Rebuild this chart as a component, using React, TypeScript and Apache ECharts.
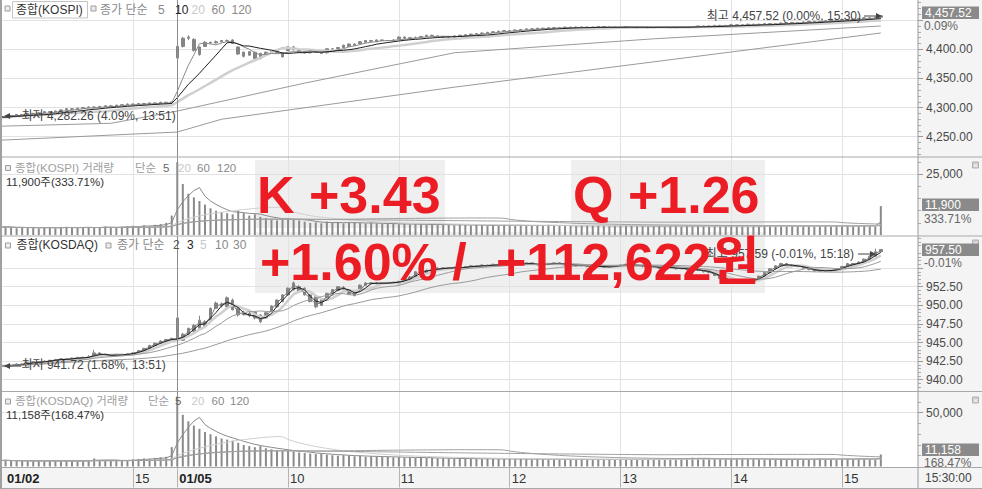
import React, { useEffect, useRef } from "react";
import * as echarts from "echarts";

const FONT = "'Liberation Sans', Arial, 'Noto Sans CJK KR', sans-serif";
const AXIS_FONT = "'Liberation Sans', Arial, sans-serif";

// ---------- time axis: 3-minute bars ----------
const sessions = [
  { day: "01/02", from: "13:48", to: "15:18" },
  { day: "01/05", from: "09:00", to: "15:18" },
];
const closingAuction = "15:30";
const emptyTailSlots = 7;
const xTickIndex = [0, 24, 32, 52, 72, 92, 112, 132, 152];
const xTickText = ["01/02", "15", "01/05", "10", "11", "12", "13", "14", "15"];
const xDateIndex = [0, 32];
const hourLineIndex = [24, 52, 72, 92, 112, 132, 152];
const dayBreakIndex = 32;

// ---------- KOSPI 3-min candles [open, close, low, high] ----------
const kospiOHLC: number[][] = [
  [4285,4284,4283,4287],[4284,4283,4282.26,4286],[4283,4286,4282,4287],[4286,4288,4285,4289],[4288,4287,4286,4289],
  [4287,4290,4286,4291],[4290,4289,4288,4291],[4289,4291,4288,4292],[4291,4293,4290,4294],[4293,4292,4291,4294],
  [4292,4294,4291,4295],[4294,4296,4293,4297],[4296,4298,4295,4299],[4298,4297,4296,4299],[4297,4299,4296,4300],
  [4299,4300,4298,4301],[4300,4301,4299,4302],[4301,4300,4299,4302],[4300,4302,4299,4303],[4302,4303,4301,4304],
  [4303,4302,4301,4304],[4302,4304,4301,4305],[4304,4305,4303,4306],[4305,4306,4304,4307],[4306,4305,4304,4307],
  [4305,4307,4304,4308],[4307,4306,4305,4308],[4306,4308,4305,4309],[4308,4307,4306,4309],[4307,4309,4306,4310],
  [4309,4308,4307,4310],[4308,4309.63,4308,4309.63],
  [4385,4405,4380,4407],[4405,4419,4403,4421],[4419,4421,4416,4424],[4417,4398,4396,4419],[4391,4404,4389,4405],
  [4405,4412,4404,4414],[4412,4411,4409,4413],[4411,4413,4410,4415],[4413,4415,4412,4416],[4415,4415,4413,4417],
  [4416,4410,4409,4417],[4404,4392,4390,4405],[4395,4388,4386,4396],[4390,4396,4389,4397],[4395,4384,4383,4396],
  [4384,4393,4383,4394],[4391,4395,4390,4396],[4393,4396,4392,4397],[4396,4394,4393,4397],[4394,4387,4386,4395],
  [4398,4404,4397,4405],[4404,4399,4398,4406],[4399,4395,4394,4400],[4396,4394,4393,4397],[4394,4395,4393,4396],
  [4395,4395,4394,4397],[4395,4393,4392,4396],[4394,4401,4393,4402],[4401,4401,4400,4402],[4401,4403,4400,4404],
  [4403,4407,4402,4408],[4405,4409,4404,4410],[4407,4409,4406,4410],[4410,4413,4409,4414],[4412,4415,4411,4416],
  [4415,4414,4413,4416],[4413,4416,4412,4417],[4416,4415,4414,4417],[4415,4415,4414,4416],[4415,4416,4414,4417],
  [4418,4421,4417,4422],[4421,4419,4418,4422],[4419,4420,4418,4421],[4420,4420,4419,4422],[4421,4422,4420,4423],
  [4422,4424,4421,4425],[4424,4423,4422,4425],[4423,4422,4421,4424],[4422,4421,4420,4423],[4421,4421,4420,4422],
  [4421,4423,4420,4424],[4423,4424,4422,4425],[4424,4425,4423,4426],[4425,4426,4424,4427],[4426,4427,4425,4428],
  [4427,4428,4426,4429],[4428,4429,4427,4430],[4429,4430,4428,4431],[4430,4431,4429,4432],[4431,4432,4430,4433],
  [4432,4432,4431,4433],[4432,4433,4431,4434],[4433,4434,4432,4435],[4434,4435,4433,4436],[4435,4435,4434,4436],
  [4435,4436,4434,4437],[4436,4436,4435,4437],[4436,4437,4435,4438],[4437,4437,4436,4438],[4437,4437,4436,4438],
  [4437,4438,4436,4439],[4438,4437,4436,4439],[4437,4438,4436,4439],[4438,4438,4437,4439],[4438,4437,4436,4439],
  [4437,4438,4436,4439],[4438,4439,4437,4440],[4439,4438,4437,4440],[4438,4438,4437,4439],[4438,4437,4436,4439],
  [4437,4438,4436,4439],[4438,4439,4437,4440],[4439,4438,4437,4440],[4438,4437,4436,4439],[4437,4438,4436,4439],
  [4438,4437,4436,4439],[4437,4438,4436,4439],[4438,4439,4437,4440],[4439,4438,4437,4440],[4438,4437,4436,4439],
  [4437,4438,4436,4439],[4438,4439,4437,4440],[4439,4438,4437,4440],[4438,4439,4437,4440],[4439,4440,4438,4441],
  [4440,4439,4438,4441],[4439,4440,4438,4441],[4440,4441,4439,4442],[4441,4440,4439,4442],[4440,4441,4439,4442],
  [4441,4442,4440,4443],[4442,4441,4440,4443],[4441,4442,4440,4443],[4442,4443,4441,4444],[4443,4442,4441,4444],
  [4442,4443,4441,4444],[4443,4444,4442,4445],[4444,4443,4442,4445],[4443,4444,4442,4445],[4444,4445,4443,4446],
  [4445,4446,4444,4447],[4446,4445,4444,4447],[4445,4446,4444,4447],[4446,4447,4445,4448],[4447,4448,4446,4449],
  [4448,4447,4446,4449],[4447,4448,4446,4449],[4448,4449,4447,4450],[4449,4450,4448,4451],[4450,4451,4449,4452],
  [4451,4450,4449,4452],[4450,4451,4449,4452],[4451,4452,4450,4453],[4452,4453,4451,4454],[4453,4454,4452,4455],
  [4454,4454,4453,4455],[4454,4455,4453,4456],[4455,4457.52,4455,4457.52],
];

// KOSPI volume (thousand shares)
const kospiVol: number[] = [
  3200,3500,3000,2800,3100,2900,3300,2700,3000,3200,2800,3100,3400,3000,2900,3200,3300,3000,3100,3500,
  3200,3000,3400,3600,3800,3500,4000,3700,4200,4500,5000,8000,
  30000,21000,17000,15500,14000,12500,11000,10000,9500,9000,8500,10000,9000,8000,8500,7500,7000,6500,6000,6500,
  7000,6500,6000,5500,5000,5200,4800,5500,5000,5200,4800,5000,5300,4900,4700,5000,4800,4600,4500,4700,
  4400,4600,4300,4500,4400,4200,4400,4300,4100,4200,
  4000,4300,4100,3900,4200,4000,3800,4100,3900,4200,4000,3800,4100,3700,3900,4000,3800,4200,3900,3700,
  4000,3800,3600,3900,4100,3800,3700,3900,3600,3800,4000,3700,3900,3600,3800,3500,3700,3900,3600,3800,
  3700,3500,3800,3600,3900,3700,3500,3800,3600,3700,3900,3600,3800,3500,3700,3600,3800,3900,3600,3700,
  3500,3800,3600,3700,3900,3600,3800,3700,3500,3800,3600,3900,3700,3800,4000,3700,3566,11900,
];

// KOSPI 60 / 120 moving averages: [bar index, value]
const kospiMa60Pts: number[][] = [[0,4268],[20,4273],[32,4294],[55,4342],[82,4394],[118,4418],[159,4440]];
const kospiMa120Pts: number[][] = [[0,4244],[32,4258],[40,4280],[82,4335],[159,4428]];

// ---------- KOSDAQ 3-min candles [open, close, low, high] ----------
const kosdaqOHLC: number[][] = [
  [942.0,941.9,941.8,942.1],[941.9,941.8,941.72,942.0],[941.8,942.0,941.8,942.1],[942.0,942.1,941.9,942.2],[942.1,942.0,941.9,942.2],
  [942.0,942.3,942.0,942.4],[942.3,942.4,942.2,942.5],[942.4,942.3,942.2,942.5],[942.3,942.5,942.2,942.6],[942.5,942.6,942.4,942.7],
  [942.6,942.7,942.5,942.8],[942.7,942.8,942.6,942.9],[942.8,942.7,942.6,942.9],[942.7,942.9,942.6,943.0],[942.9,943.0,942.8,943.1],
  [943.0,942.9,942.8,943.1],[942.9,943.1,942.8,943.3],[943.1,943.6,943.0,944.0],[943.6,943.4,943.3,943.7],[943.4,943.3,943.2,943.5],
  [943.3,943.2,943.1,943.4],[943.2,943.4,943.1,943.5],[943.4,943.3,943.2,943.5],[943.3,943.5,943.2,943.6],[943.5,943.6,943.4,943.7],
  [943.6,943.9,943.5,944.0],[943.9,944.2,943.8,944.3],[944.2,944.6,944.1,944.7],[944.6,944.9,944.5,945.0],[944.9,945.2,944.8,945.3],
  [945.2,945.4,945.1,945.5],[945.4,945.57,945.4,945.57],
  [948.3,945.4,945.2,948.5],[945.3,946.1,945.2,946.3],[946.0,946.9,945.9,947.0],[946.5,947.3,946.4,947.5],[946.9,948.0,946.8,948.6],
  [947.8,947.2,947.0,948.0],[948.0,949.6,947.9,949.7],[949.6,950.3,949.5,950.5],[950.2,949.9,949.7,950.4],[949.8,951.0,949.7,951.2],
  [950.7,949.4,949.3,950.9],[949.6,948.7,948.5,949.8],[949.1,948.8,948.6,949.3],[948.9,948.6,948.4,949.1],[949.1,948.3,948.1,949.2],
  [948.7,947.8,947.6,948.8],[948.3,949.0,948.2,949.1],[949.2,949.9,949.1,950.0],[949.8,950.7,949.7,950.8],[950.5,951.4,950.4,951.5],
  [951.4,952.3,951.3,952.4],[952.1,953.0,952.0,953.2],[952.5,951.8,951.7,952.7],[952.3,951.4,951.3,952.4],[951.4,950.5,950.4,951.5],
  [951.2,949.8,949.6,951.3],[950.0,950.8,949.9,950.9],[950.7,951.6,950.6,951.7],[951.4,952.1,951.3,952.2],[952.0,952.5,951.9,952.6],
  [952.4,952.2,952.1,952.6],[952.1,951.5,951.4,952.2],[951.8,951.3,951.2,951.9],[952.1,952.7,952.0,952.8],[952.7,953.0,952.6,953.1],
  [952.9,953.0,952.8,953.1],[953.0,952.9,952.8,953.1],[952.9,953.0,952.8,953.1],[953.0,953.0,952.9,953.1],[953.0,953.1,952.9,953.2],
  [952.9,953.2,952.8,953.3],[953.3,953.5,953.2,953.6],[953.4,953.8,953.3,953.9],[953.8,954.5,953.7,954.6],[954.4,954.6,954.3,954.7],
  [954.3,954.7,954.2,954.8],[954.7,954.8,954.6,954.9],[954.7,955.0,954.6,955.1],[955.0,955.0,954.9,955.1],[955.0,955.0,954.9,955.1],
  [955.0,955.1,954.9,955.2],[955.1,955.0,954.9,955.2],[955.0,955.2,954.9,955.3],[955.2,955.3,955.1,955.4],[955.3,955.2,955.1,955.4],
  [955.2,955.4,955.1,955.5],[955.4,955.3,955.2,955.5],[955.3,955.5,955.2,955.6],[955.5,955.4,955.3,955.6],[955.4,955.6,955.3,955.7],
  [955.6,955.5,955.4,955.7],[955.5,955.4,955.3,955.6],[955.4,955.6,955.3,955.7],[955.6,955.7,955.5,955.8],[955.7,955.5,955.4,955.8],
  [955.5,955.4,955.3,955.6],[955.4,955.6,955.3,955.7],[955.6,955.5,955.4,955.7],[955.5,955.7,955.4,955.8],[955.7,955.6,955.5,955.8],
  [955.6,955.4,955.3,955.7],[955.4,955.5,955.3,955.6],[955.5,955.3,955.2,955.6],[955.3,955.4,955.2,955.5],[955.4,955.2,955.1,955.5],
  [955.2,955.3,955.1,955.4],[955.3,955.2,955.1,955.4],[955.2,955.1,955.0,955.3],[955.1,955.2,955.0,955.3],[955.2,955.3,955.1,955.4],
  [955.3,955.4,955.2,955.5],[955.4,955.5,955.3,955.6],[955.5,955.3,955.2,955.6],[955.3,955.4,955.2,955.5],[955.4,955.2,955.1,955.5],
  [955.2,955.3,955.1,955.4],[955.3,955.1,955.0,955.4],[955.1,955.0,954.9,955.2],[955.0,955.2,954.9,955.3],[955.2,955.0,954.9,955.3],
  [955.0,954.9,954.8,955.1],[954.9,955.0,954.8,955.1],[955.0,954.8,954.7,955.1],[954.8,954.7,954.6,954.9],[954.7,954.8,954.6,954.9],
  [954.8,954.5,954.4,954.9],[954.5,954.4,954.3,954.6],[954.4,954.0,953.9,954.5],[954.0,953.6,953.5,954.1],[953.6,953.3,953.2,953.7],
  [953.3,953.0,952.9,953.4],[953.0,953.1,952.9,953.2],[953.1,953.3,953.0,953.4],[953.3,953.2,953.1,953.4],[953.2,953.5,953.1,953.6],
  [953.5,953.9,953.4,954.0],[953.9,954.4,953.8,954.5],[954.4,954.9,954.3,955.0],[954.9,955.3,954.8,955.4],[955.3,955.6,955.2,955.7],
  [955.6,955.4,955.3,955.7],[955.4,955.2,955.1,955.5],[955.2,955.3,955.1,955.4],[955.3,955.0,954.9,955.4],[955.0,954.8,954.7,955.1],
  [954.8,954.6,954.5,954.9],[954.6,954.7,954.5,954.8],[954.7,954.6,954.5,954.8],[954.6,954.7,954.5,954.8],[954.7,954.9,954.6,955.0],
  [954.9,955.2,954.8,955.3],[955.2,955.6,955.1,955.7],[955.6,955.5,955.4,955.7],[955.5,955.8,955.4,955.9],[955.8,956.2,955.7,956.3],
  [956.2,956.6,956.1,956.7],[956.6,957.2,956.5,957.59],[957.2,957.5,957.2,957.5],
];

// KOSDAQ volume (thousand shares)
const kosdaqVol: number[] = [
  5500,6000,5200,5000,5300,4900,5400,5100,5000,5600,5200,4800,5500,5300,5000,5200,5800,7500,6000,5500,
  5600,5400,5700,6000,6500,7000,7500,7200,8000,8500,9000,18000,
  65000,48000,42000,38000,35000,32000,30000,28000,26000,25000,24000,22000,20000,19000,18000,19000,17000,16000,15000,14500,
  15000,14000,13000,12500,12000,11500,12000,11000,10500,10000,10500,10000,9500,9800,9000,9500,9200,8800,9000,8500,
  8700,8300,8500,8000,8200,7800,8000,7600,7800,7500,
  7200,7600,7000,7400,7100,6900,7300,7000,6800,7200,7000,6700,7100,6900,6600,7000,6800,6500,6900,6700,
  6600,6900,6400,6800,6600,6300,6700,6500,6800,6400,6600,6900,6500,6700,6300,6600,7000,6800,6500,6700,
  6900,7300,7800,8200,7600,7200,6900,7400,7100,6800,7000,7600,8000,7400,7000,6800,6600,6900,6500,6700,
  6400,6600,6800,6500,6700,7000,7300,6900,6600,6800,7100,7400,7000,7200,7500,6900,6623,11158,
];

// axis ticks (grid lines) and the tick labels that are shown
const kospiTicks = [4250, 4300, 4350, 4400, 4450];
const kospiLabels = [4250, 4300, 4350, 4400];
const kospiVolTicks = [25000];
const kosdaqTicks = [940, 942.5, 945, 947.5, 950, 952.5, 955];
const kosdaqLabels = [940, 942.5, 945, 947.5, 950, 952.5];
const kosdaqVolTicks = [50000];

// moving-average periods
const kospiMaPeriods = [5, 10, 20];
const kosdaqMaPeriods = [2, 3, 5, 10, 30];
const volMaPeriods = [5, 20, 60, 120];

// ---------- helpers ----------
const toMin = (s: string) => { const [h, m] = s.split(":").map(Number); return h * 60 + m; };
const fmtMin = (m: number) => `${String(Math.floor(m / 60)).padStart(2, "0")}:${String(m % 60).padStart(2, "0")}`;
const categories: string[] = [];
sessions.forEach((s) => {
  for (let m = toMin(s.from); m <= toMin(s.to); m += 3) categories.push(`${s.day} ${fmtMin(m)}`);
  categories.push(`${s.day} ${closingAuction}`);
});
for (let k = 0; k < emptyTailSlots; k++) categories.push(`tail${k}`);

const sma = (vals: number[], n: number) =>
  vals.map((_, i) => {
    const s = Math.max(0, i - n + 1);
    let sum = 0;
    for (let k = s; k <= i; k++) sum += vals[k];
    return Math.round((sum / (i - s + 1)) * 100) / 100;
  });

const GRID_L = -3.7;
const GRID_W = 923.3;
const AXIS_OFFSET = 918 - (GRID_L + GRID_W);

function buildOption(): any {
  const kospiClose = kospiOHLC.map((b) => b[1]);
  const kosdaqClose = kosdaqOHLC.map((b) => b[1]);
  const fmt2 = (v: number) => v.toLocaleString("en-US", { minimumFractionDigits: 2, maximumFractionDigits: 2 });
  const fmt0 = (v: number) => v.toLocaleString("en-US");

  const grids = [
    { left: GRID_L, top: 0, width: GRID_W, height: 157 },
    { left: GRID_L, top: 157, width: GRID_W, height: 78 },
    { left: GRID_L, top: 236, width: GRID_W, height: 156 },
    { left: GRID_L, top: 392, width: GRID_W, height: 74.5 },
  ];

  const xAxis = grids.map((_, gi) => ({
    type: "category",
    gridIndex: gi,
    data: categories,
    boundaryGap: false,
    axisLine: { show: false },
    axisTick: {
      show: gi === 3,
      length: 21,
      interval: (i: number) => xTickIndex.includes(i) && i !== 0,
      lineStyle: { color: "#b4b4b4" },
    },
    axisLabel: {
      show: gi === 3,
      interval: (i: number) => xTickIndex.includes(i),
      formatter: (_v: string, i: number) => {
        const k = xTickIndex.indexOf(i);
        if (k < 0) return "";
        const t = xTickText[k];
        if (i === 0) return `{d0|${t}}`;
        return xDateIndex.includes(i) ? `{d|${t}}` : t;
      },
      align: "left",
      margin: 5,
      padding: [0, 0, 0, 2],
      color: "#333",
      fontSize: 13,
      fontFamily: FONT,
      rich: {
        d: { fontWeight: "bold", fontSize: 13, color: "#222", fontFamily: FONT },
        d0: { fontWeight: "bold", fontSize: 13, color: "#222", fontFamily: FONT, padding: [0, 0, 0, 5] },
      },
    },
    splitLine: {
      show: true,
      interval: (i: number) => hourLineIndex.includes(i),
      lineStyle: { color: "#e2e2e2", width: 1 },
    },
  }));

  const yCfg = (
    gi: number, min: number, max: number, step: number,
    ticks: number[], labels: number[], fmt: (v: number) => string
  ) => ({
    type: "value",
    gridIndex: gi,
    position: "right",
    min,
    max,
    minInterval: step,
    maxInterval: step,
    offset: AXIS_OFFSET,
    axisLine: { show: false },
    axisTick: { show: true, length: 5, customValues: ticks, lineStyle: { color: "#999" } },
    minorTick: { show: true, splitNumber: 5, length: 3, lineStyle: { color: "#aaa" } },
    minorSplitLine: { show: false },
    axisLabel: {
      show: true,
      customValues: labels,
      formatter: fmt,
      margin: 8,
      color: "#4a4a4a",
      fontSize: 12,
      fontFamily: AXIS_FONT,
    },
    splitLine: { show: true, lineStyle: { color: "#e2e2e2", width: 1 } },
  });

  const yAxis = [
    yCfg(0, 4215.2, 4484.6, 50, kospiTicks, kospiLabels, fmt2),
    yCfg(1, 0, 32125, 25000, kospiVolTicks, kospiVolTicks, fmt0),
    yCfg(2, 938.35, 959.31, 2.5, kosdaqTicks, kosdaqLabels, fmt2),
    yCfg(3, 0, 69240, 50000, kosdaqVolTicks, kosdaqVolTicks, fmt0),
  ];

  const dayLine = {
    silent: true,
    symbol: ["none", "none"],
    label: { show: false },
    lineStyle: { color: "#8c8c8c", width: 1, type: "solid" },
    data: [{ xAxis: dayBreakIndex }],
    animation: false,
  };

  const line = (data: any[], gi: number, color: string, width = 1, z = 4) => ({
    type: "line",
    xAxisIndex: gi,
    yAxisIndex: gi,
    data,
    showSymbol: false,
    symbol: "none",
    silent: true,
    z,
    lineStyle: { color, width },
  });

  const candle = (data: number[][], gi: number) => ({
    type: "candlestick",
    xAxisIndex: gi,
    yAxisIndex: gi,
    data,
    barWidth: 3,
    silent: true,
    itemStyle: { color: "#858585", color0: "#858585", borderColor: "#858585", borderColor0: "#858585", borderWidth: 1 },
    markLine: dayLine,
  });

  const volBar = (data: number[], gi: number) => ({
    type: "bar",
    xAxisIndex: gi,
    yAxisIndex: gi,
    data,
    barWidth: 2,
    silent: true,
    itemStyle: { color: "#8a8a8a" },
    markLine: dayLine,
  });

  const kospiMaColors = ["#8a8a8a", "#1e1e1e", "#cfcfcf"];
  const kosdaqMaColors = ["#7a7a7a", "#1e1e1e", "#cfcfcf", "#9a9a9a", "#9a9a9a"];
  const volMaColors = ["#8a8a8a", "#cfcfcf", "#a0a0a0", "#a0a0a0"];

  const series: any[] = [
    candle(kospiOHLC, 0),
    ...kospiMaPeriods.map((p, k) =>
      line(sma(kospiClose, p), 0, kospiMaColors[k], p === 20 ? 2.5 : 1, p === 20 ? 3 : 4)
    ),
    line(kospiMa60Pts, 0, "#9a9a9a"),
    line(kospiMa120Pts, 0, "#9a9a9a"),
    volBar(kospiVol, 1),
    ...volMaPeriods.map((p, k) => line(sma(kospiVol, p), 1, volMaColors[k])),
    candle(kosdaqOHLC, 2),
    ...kosdaqMaPeriods.map((p, k) =>
      line(sma(kosdaqClose, p), 2, kosdaqMaColors[k], p === 5 ? 2.5 : 1, p === 5 ? 3 : 4)
    ),
    volBar(kosdaqVol, 3),
    ...volMaPeriods.map((p, k) => line(sma(kosdaqVol, p), 3, volMaColors[k])),
  ];

  const font = (size = 12, weight = "normal", fam = FONT) => `${weight} ${size}px ${fam}`;
  const T = (text: string, x: number, y: number, fill: string, o: any = {}) => ({
    type: "text",
    x,
    y,
    z: o.z ?? 50,
    silent: true,
    style: {
      text,
      fill,
      font: font(o.size ?? 12, o.weight ?? "normal", o.fam ?? FONT),
      align: o.align ?? "left",
      verticalAlign: "middle",
      textAlign: o.align ?? "left",
      textVerticalAlign: "middle",
    },
  });
  const R = (x: number, y: number, w: number, h: number, fill: string, stroke?: string, z = 40) => ({
    type: "rect",
    z,
    silent: true,
    shape: { x, y, width: w, height: h },
    style: { fill, stroke: stroke ?? null, lineWidth: 1 },
  });
  const Lh = (x1: number, y1: number, x2: number, y2: number, stroke: string, w = 1, z = 45) => ({
    type: "line",
    z,
    silent: true,
    shape: { x1, y1, x2, y2 },
    style: { stroke, lineWidth: w },
  });
  const icon = (x: number, y: number) => R(x + 0.5, y + 0.5, 5, 5, "#ececec", "#9c9c9c", 50);
  const arrowL = (x: number, y: number) => [
    Lh(x + 3, y, x + 17, y, "#444", 1, 50),
    { type: "polygon", z: 50, silent: true, shape: { points: [[x, y], [x + 6, y - 3], [x + 6, y + 3]] }, style: { fill: "#444" } },
  ];
  const arrowR = (x: number, y: number) => [
    Lh(x, y, x + 14, y, "#444", 1, 50),
    { type: "polygon", z: 50, silent: true, shape: { points: [[x + 18, y], [x + 12, y - 3], [x + 12, y + 3]] }, style: { fill: "#444" } },
  ];
  const priceBox = (text: string, y: number) => [
    R(922, y, 57, 12.5, "#8a8a8a", undefined, 60),
    T(text, 925, y + 6.3, "#ffffff", { z: 61, size: 12, fam: AXIS_FONT }),
  ];
  const closeBox = (y: number) => [
    R(972.5, y + 0.5, 6, 6, "#cfcfcf", "#b0b0b0", 50),
    T("×", 975.5, y + 3.5, "#ffffff", { size: 8, align: "center" }),
  ];

  const RED = "#ec1c24";
  const BIG = { size: 52, weight: "bold", z: 100 };
  const graphic: any[] = [
    // backgrounds
    R(918, 0, 64, 489, "#f4f4f4", undefined, -1),
    R(0, 467.5, 918, 21, "#f4f4f4", undefined, -1),
    // frame
    Lh(918, 0, 918, 489, "#9a9a9a"),
    Lh(0, 157, 982, 157, "#a8a8a8"),
    Lh(0, 236, 982, 236, "#a8a8a8"),
    Lh(0, 391.5, 982, 391.5, "#a8a8a8"),
    Lh(0, 467.5, 982, 467.5, "#a8a8a8"),
    Lh(0, 488.5, 982, 488.5, "#a8a8a8"),
    Lh(1, 0, 1, 489, "#a0a0a0", 2),

    // panel 1 legend
    icon(4.5, 5.5),
    R(12.5, 1.5, 75, 16.5, "none", "#c4c4c4", 50),
    T("종합(KOSPI)", 16, 10, "#333"),
    icon(90.5, 5.5),
    T("종가 단순", 100, 10, "#8a8a8a"),
    T("5", 158, 10, "#8a8a8a"),
    T("10", 175, 10, "#222"),
    T("20", 191.5, 10, "#c8c8c8"),
    T("60", 211.5, 10, "#8a8a8a"),
    T("120", 231.5, 10, "#8a8a8a"),
    ...arrowL(4, 116),
    T("최저 4,282.26 (4.09%, 13:51)", 21.5, 115.5, "#444"),
    T("최고 4,457.52 (0.00%, 15:30)", 861, 16, "#444", { align: "right" }),
    ...arrowR(864, 16),

    // panel 2 legend
    icon(5, 165),
    T("종합(KOSPI) 거래량", 15, 167.5, "#a0a0a0", { size: 11.5 }),
    T("단순", 135, 167.5, "#a0a0a0", { size: 11.5 }),
    T("5", 163, 167.5, "#666", { size: 11.5 }),
    T("20", 178, 167.5, "#c8c8c8", { size: 11.5 }),
    T("60", 197, 167.5, "#8a8a8a", { size: 11.5 }),
    T("120", 217, 167.5, "#8a8a8a", { size: 11.5 }),
    T("11,900주(333.71%)", 6, 181.5, "#333", { size: 11.5 }),

    // panel 3 legend
    icon(5, 242.5),
    T("종합(KOSDAQ)", 16.5, 245, "#333"),
    icon(105.5, 242.5),
    T("종가 단순", 117, 245, "#8a8a8a"),
    T("2", 173, 245, "#555"),
    T("3", 187, 245, "#222"),
    T("5", 200, 245, "#c8c8c8"),
    T("10", 215, 245, "#8a8a8a"),
    T("30", 233, 245, "#8a8a8a"),
    ...arrowL(4, 366),
    T("최저 941.72 (1.68%, 13:51)", 21.5, 365, "#444"),
    T("최고 957.59 (-0.01%, 15:18)", 854, 254, "#444", { align: "right" }),
    ...arrowR(858, 254),

    // panel 4 legend
    icon(5, 398.5),
    T("종합(KOSDAQ) 거래량", 15, 401, "#a0a0a0", { size: 11.5 }),
    T("단순", 148, 401, "#a0a0a0", { size: 11.5 }),
    T("5", 175, 401, "#666", { size: 11.5 }),
    T("20", 191.5, 401, "#c8c8c8", { size: 11.5 }),
    T("60", 211.5, 401, "#8a8a8a", { size: 11.5 }),
    T("120", 230, 401, "#8a8a8a", { size: 11.5 }),
    T("11,158주(168.47%)", 6, 414.5, "#333", { size: 11.5 }),

    // right-axis current values
    ...priceBox("4,457.52", 6.5),
    T("0.09%", 924, 26, "#666", { size: 12, fam: AXIS_FONT }),
    ...priceBox("11,900", 198.5),
    T("333.71%", 924, 218.5, "#666", { size: 12, fam: AXIS_FONT }),
    ...priceBox("957.50", 243.5),
    T("-0.01%", 924, 263, "#666", { size: 12, fam: AXIS_FONT }),
    ...priceBox("11,158", 443.5),
    T("168.47%", 924, 462.5, "#666", { size: 12, fam: AXIS_FONT }),
    T("15:30:00", 925, 478, "#444", { size: 12, fam: AXIS_FONT }),
    ...closeBox(161.5),
    ...closeBox(239.5),
    ...closeBox(396.5),

    // red overlay
    R(255, 160, 190, 68, "rgba(226,226,226,0.55)", undefined, 1),
    R(571, 160, 194, 68, "rgba(226,226,226,0.55)", undefined, 1),
    R(255, 232, 510, 61, "rgba(226,226,226,0.55)", undefined, 1),
    T("K +3.43", 257, 195, RED, BIG),
    T("Q +1.26", 573, 195, RED, BIG),
    T("+1.60% /", 260, 262, RED, BIG),
    T("+112,622원", 496, 262, RED, BIG),
  ];

  return {
    animation: false,
    backgroundColor: "#ffffff",
    textStyle: { fontFamily: FONT },
    grid: grids,
    xAxis,
    yAxis,
    series,
    graphic,
  };
}

export default function App() {
  const ref = useRef<HTMLDivElement>(null);
  useEffect(() => {
    if (!ref.current) return;
    const chart = echarts.init(ref.current, null, { renderer: "svg" });
    chart.setOption(buildOption());
    return () => chart.dispose();
  }, []);
  return (
    <div
      ref={ref}
      style={{ position: "fixed", left: 0, top: 0, width: 982, height: 489, background: "#fff" }}
    />
  );
}
